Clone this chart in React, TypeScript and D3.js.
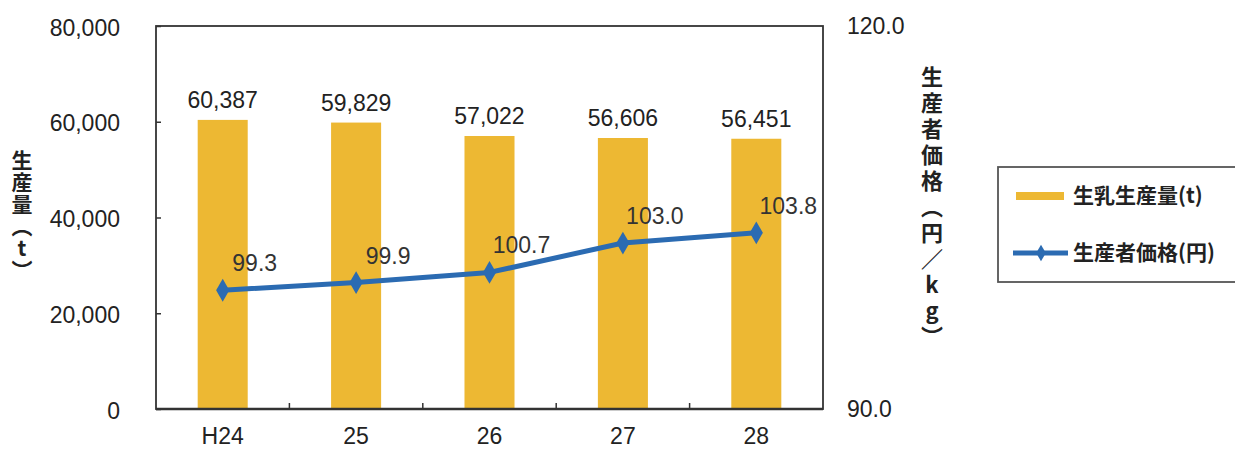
import React, { useEffect, useRef } from 'react'
import * as d3 from 'd3'

// chart data
const years: string[] = ['H24', '25', '26', '27', '28']
const production: number[] = [60387, 59829, 57022, 56606, 56451]
const price: number[] = [99.3, 99.9, 100.7, 103.0, 103.8]
const leftTicks: number[] = [0, 20000, 40000, 60000, 80000]
const rightTicks: number[] = [90, 120]
const legendLabels: string[] = ['生乳生産量(t)', '生産者価格(円)']

// layout
const W = 1235
const H = 450
const plot = { left: 156, right: 823, top: 26, bottom: 409 }

const barColor = '#EDB833'
const lineColor = '#2B6BB2'
const numFont = '"Liberation Sans", Arial, sans-serif'
const jpFont = '"Noto Sans CJK JP", sans-serif'

const App = () => {
  const leftAxisRef: any = useRef()
  const rightAxisRef: any = useRef()
  const bottomAxisRef: any = useRef()

  const x = d3.scaleBand<string>()
    .domain(years)
    .range([plot.left, plot.right])
    .paddingInner(0.625)
    .paddingOuter(0.3125)

  const yLeft = d3.scaleLinear().domain([0, 80000]).range([plot.bottom, plot.top])
  const yRight = d3.scaleLinear().domain([90, 120]).range([plot.bottom, plot.top])

  const cx = (d: string) => (x(d) ?? 0) + x.bandwidth() / 2
  const step = x.step()

  useEffect(() => {
    const styleAxis = (g: any) => {
      g.select('.domain').remove()
      g.selectAll('text')
        .attr('font-family', numFont)
        .attr('font-size', 23)
        .attr('fill', '#222')
      g.selectAll('line').attr('stroke', '#333').attr('stroke-width', 1.5)
    }

    d3.select(leftAxisRef.current)
      .call(d3.axisLeft(yLeft)
        .tickValues(leftTicks)
        .tickFormat(d3.format(','))
        .tickSizeInner(-5)
        .tickSizeOuter(0)
        .tickPadding(36) as any)
      .call(styleAxis)
    d3.select(leftAxisRef.current).selectAll('text').attr('dy', '0.4em')

    d3.select(rightAxisRef.current)
      .call(d3.axisRight(yRight)
        .tickValues(rightTicks)
        .tickFormat(d3.format('.1f'))
        .tickSize(0)
        .tickPadding(24) as any)
      .call(styleAxis)

    d3.select(bottomAxisRef.current)
      .call(d3.axisBottom(x)
        .tickSize(0)
        .tickPadding(19) as any)
      .call(styleAxis)
  }, [])

  const line = d3.line<number>()
    .x((_, i) => cx(years[i]))
    .y(d => yRight(d))

  const diamond = d3.symbol().type(d3.symbolDiamond).size(150)

  return (
    <svg
      width={W}
      height={H}
      style={{ position: 'absolute', left: 0, top: 0, background: '#fff' }}
    >
      {/* bars */}
      {production.map((v, i) => (
        <rect
          key={`bar-${years[i]}`}
          x={x(years[i])}
          y={yLeft(v)}
          width={x.bandwidth()}
          height={yLeft(0) - yLeft(v)}
          fill={barColor}
        />
      ))}

      {/* plot frame */}
      <rect
        x={plot.left}
        y={plot.top}
        width={plot.right - plot.left}
        height={plot.bottom - plot.top}
        fill='none'
        stroke='#333'
        strokeWidth={1.8}
      />
      <line x1={plot.left} x2={plot.right} y1={plot.bottom} y2={plot.bottom} stroke='#333' strokeWidth={2.5} />

      {/* separator ticks on category axis */}
      {years.slice(1).map(d => {
        const bx = cx(d) - step / 2
        return <line key={`sep-${d}`} x1={bx} x2={bx} y1={plot.bottom} y2={plot.bottom - 6} stroke='#333' strokeWidth={1.5} />
      })}

      <g ref={leftAxisRef} transform={`translate(${plot.left},0)`} />
      <g ref={rightAxisRef} transform={`translate(${plot.right},0)`} />
      <g ref={bottomAxisRef} transform={`translate(0,${plot.bottom})`} />

      {/* bar labels */}
      {production.map((v, i) => (
        <text
          key={`bl-${years[i]}`}
          x={cx(years[i])}
          y={yLeft(v) - 12}
          textAnchor='middle'
          fontFamily={numFont}
          fontSize={23}
          fill='#222'
        >
          {d3.format(',')(v)}
        </text>
      ))}

      {/* price line */}
      <path d={line(price) ?? ''} fill='none' stroke={lineColor} strokeWidth={5} strokeLinejoin='round' />
      {price.map((v, i) => (
        <path
          key={`pt-${years[i]}`}
          d={diamond() ?? ''}
          transform={`translate(${cx(years[i])},${yRight(v)})`}
          fill={lineColor}
        />
      ))}
      {price.map((v, i) => (
        <text
          key={`pl-${years[i]}`}
          x={cx(years[i]) + 32}
          y={yRight(v) - 19}
          textAnchor='middle'
          fontFamily={numFont}
          fontSize={23}
          fill='#333'
        >
          {d3.format('.1f')(v)}
        </text>
      ))}

      {/* axis titles */}
      <text
        x={22}
        y={150}
        fontFamily={jpFont}
        fontWeight='bold'
        fontSize={21}
        letterSpacing={1}
        fill='#222'
        style={{ writingMode: 'vertical-rl', textOrientation: 'upright' } as any}
      >
        生産量（t）
      </text>
      <text
        x={932}
        y={66}
        fontFamily={jpFont}
        fontWeight='bold'
        fontSize={22}
        letterSpacing={4}
        fill='#222'
        style={{ writingMode: 'vertical-rl', textOrientation: 'upright' } as any}
      >
        生産者価格（円／kg）
      </text>

      {/* legend */}
      <rect x={998} y={167} width={260} height={115} fill='none' stroke='#555' strokeWidth={1.8} />
      <line x1={1016} x2={1064} y1={196} y2={196} stroke={barColor} strokeWidth={8} />
      <text x={1073} y={196} dy='0.35em' fontFamily={jpFont} fontWeight='bold' fontSize={21} fill='#222'>
        {legendLabels[0]}
      </text>
      <line x1={1013} x2={1068} y1={253} y2={253} stroke={lineColor} strokeWidth={5} />
      <path d={d3.symbol().type(d3.symbolDiamond).size(80)() ?? ''} transform='translate(1041,253)' fill={lineColor} />
      <text x={1073} y={253} dy='0.35em' fontFamily={jpFont} fontWeight='bold' fontSize={21} fill='#222'>
        {legendLabels[1]}
      </text>
    </svg>
  )
}

export default App
